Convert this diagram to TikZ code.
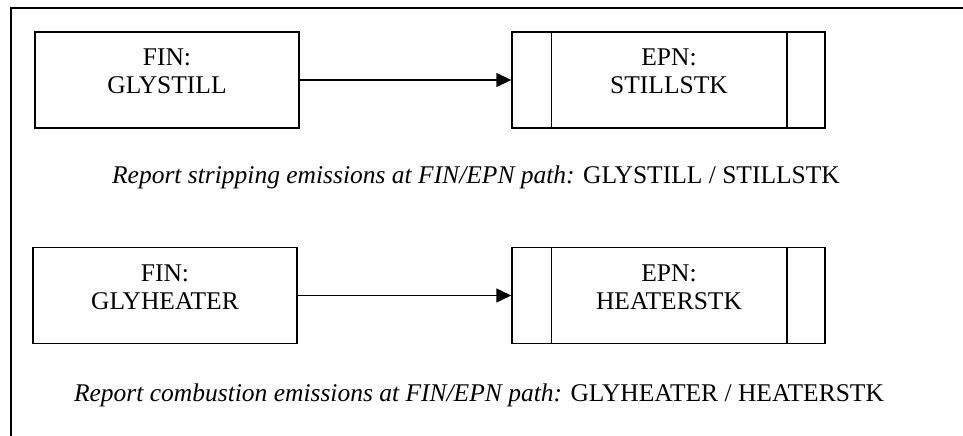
\documentclass[tikz,border=0pt]{standalone}
\usepackage{fontspec}
\setmainfont{Liberation Serif}
\usetikzlibrary{arrows.meta}

\begin{document}
\begin{tikzpicture}[x=1pt,y=-1pt,
    finbox/.style={draw, line width=1.5pt, minimum width=264pt, minimum height=96pt},
    epnbox/.style={draw, line width=1.5pt, minimum width=313pt, minimum height=96pt},
    boxtext/.style={align=center, inner sep=0pt, font=\fontsize{25.5}{28}\selectfont},
    note/.style={anchor=base, inner sep=0pt, font=\fontsize{25.5}{28}\selectfont},
    flow/.style={line width=1.5pt, -{Triangle[length=15pt,width=14pt]}}]
                \clip (0,0) rectangle (963,436);
                \draw[line width=1.5pt] (11,8) rectangle (990,460);
                \node[finbox] (fin1) at (167,80) {};
                \node[epnbox] (epn1) at (668.5,80) {};
                \node[finbox] (fin2) at (165,295.5) {};
                \node[epnbox] (epn2) at (668.5,295.5) {};
                \foreach \n in {epn1,epn2} {
                    \draw[line width=1.5pt] ([xshift=40pt]\n.north west) -- ([xshift=40pt]\n.south west);
                    \draw[line width=1.5pt] ([xshift=-39pt]\n.north east) -- ([xshift=-39pt]\n.south east);
                }
                \node[boxtext] (fin1text) at (167,71) {FIN:\\GLYSTILL};
                \node[boxtext] (epn1text) at (669,71) {EPN:\\STILLSTK};
                \node[boxtext] (fin2text) at (165,287) {FIN:\\GLYHEATER};
                \node[boxtext] (epn2text) at (669,287) {EPN:\\HEATERSTK};
                \draw[flow] (fin1) -- (epn1);
                \draw[flow] (fin2) -- (epn2);
                \node[note] (note1) at (476,183) {\textit{Report stripping emissions at FIN/EPN path:} GLYSTILL / STILLSTK};
                \node[note] (note2) at (479,401) {\textit{Report combustion emissions at FIN/EPN path:} GLYHEATER / HEATERSTK};
            \end{tikzpicture}
\end{document}
